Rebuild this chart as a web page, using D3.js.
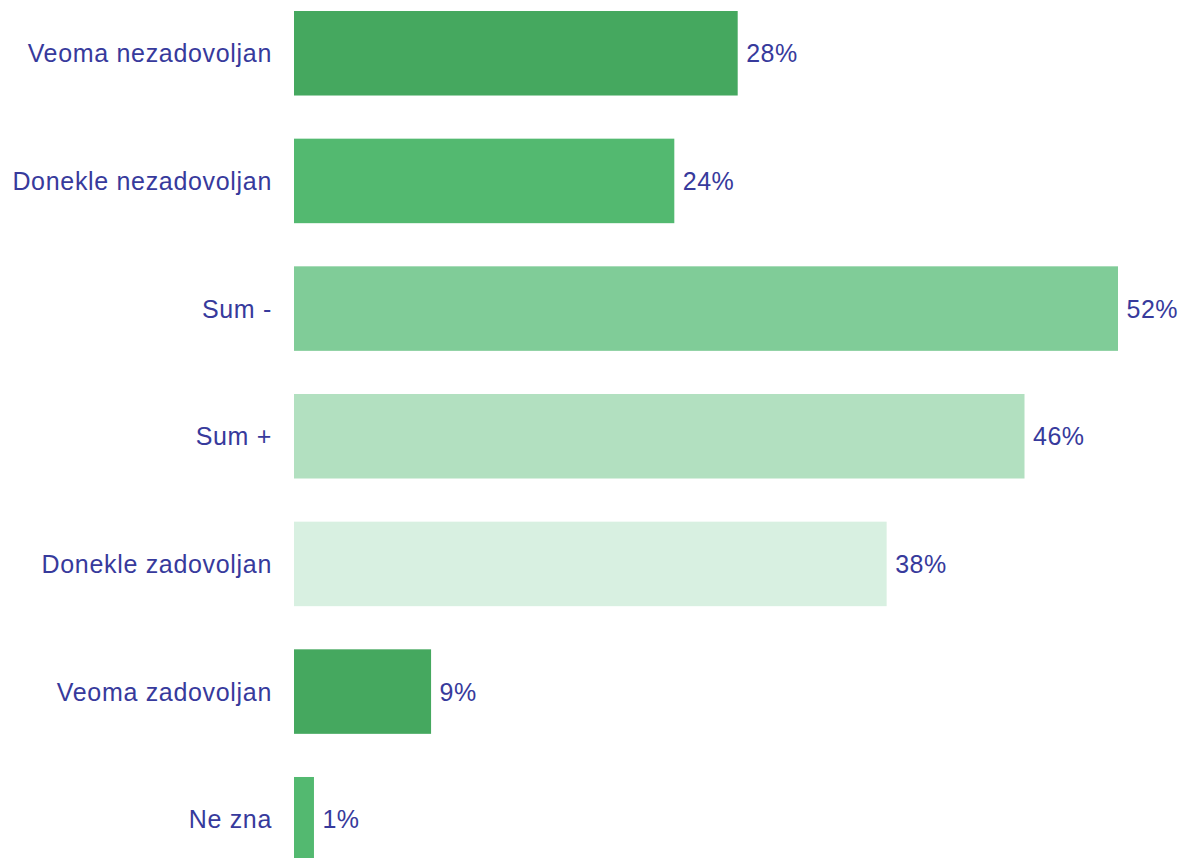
<!DOCTYPE html>
<html>
<head>
<meta charset="utf-8">
<script src="https://cdn.jsdelivr.net/npm/d3@7"></script>
<style>
  html, body { margin: 0; padding: 0; background: #ffffff; }
  svg { display: block; }
</style>
</head>
<body>
<svg id="chart" width="1182" height="858"></svg>
<script>
const categories = ["Veoma nezadovoljan", "Donekle nezadovoljan", "Sum -", "Sum +", "Donekle zadovoljan", "Veoma zadovoljan", "Ne zna"];
const values = [28, 24, 52, 46.1, 37.4, 8.65, 1.26];
const valueLabels = ["28%", "24%", "52%", "46%", "38%", "9%", "1%"];
const barColors = ["#45a85f", "#53b970", "#80cc98", "#b2e0c0", "#d8f0e1", "#45a85f", "#53b970"];

const svg = d3.select("#chart");
const textColor = "#373a9c";
const font = "'Liberation Sans', Arial, sans-serif";

const x = d3.scaleLinear().domain([0, 52]).range([294, 1118]);
const y = d3.scaleBand().domain(categories).range([11, 861.5]).paddingInner(0.338).paddingOuter(0);

svg.append("g").selectAll("rect")
  .data(categories)
  .join("rect")
  .attr("x", x(0))
  .attr("y", d => y(d))
  .attr("width", (d, i) => x(values[i]) - x(0))
  .attr("height", y.bandwidth())
  .attr("fill", (d, i) => barColors[i]);

const yAxis = d3.axisLeft(y).tickSize(0).tickPadding(22);
const ga = svg.append("g").attr("transform", `translate(${x(0)},0)`).call(yAxis);
ga.select(".domain").remove();
ga.selectAll("text")
  .attr("font-family", font)
  .attr("font-size", 25)
  .attr("letter-spacing", "0.68px")
  .attr("fill", textColor)
  .attr("dy", "0.36em");

svg.append("g").selectAll("text")
  .data(categories)
  .join("text")
  .attr("x", (d, i) => x(values[i]) + 8.5)
  .attr("y", d => y(d) + y.bandwidth() / 2)
  .attr("dy", "0.36em")
  .attr("font-family", font)
  .attr("font-size", 25)
  .attr("letter-spacing", "0.5px")
  .attr("fill", textColor)
  .text((d, i) => valueLabels[i]);
</script>
</body>
</html>
